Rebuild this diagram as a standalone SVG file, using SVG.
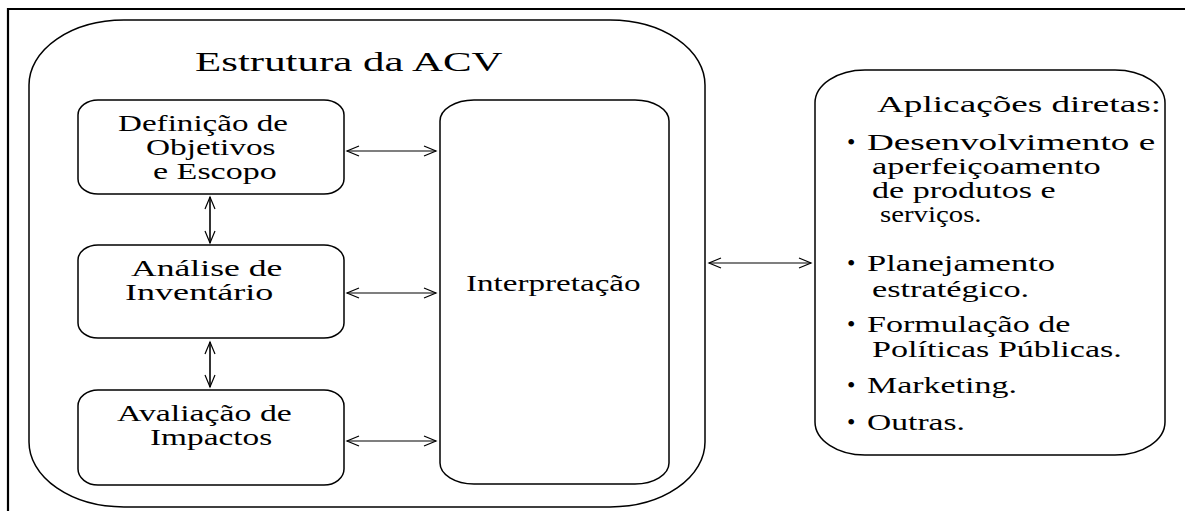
<svg xmlns="http://www.w3.org/2000/svg" width="1185" height="511" viewBox="0 0 1185 511">
<style>
.box{fill:#fff;stroke:#000;stroke-width:1.5}
.t{font-family:"Liberation Serif","Times New Roman",serif;font-size:24px;fill:#000}
.s{font-size:23px}
.title{font-size:27px}
.con{stroke:#000;stroke-width:1.2;fill:none;marker-start:url(#ah);marker-end:url(#ah)}
.v{stroke-width:1.6}
</style>
<defs>
<marker id="ah" markerUnits="userSpaceOnUse" markerWidth="16" markerHeight="14" refX="0" refY="0" viewBox="-14 -7 16 14" orient="auto-start-reverse">
<path d="M-12,-5 L0,0 L-12,5" fill="none" stroke="#000" stroke-width="1.2"/>
</marker>
</defs>
<rect width="1185" height="511" fill="#fff"/>
<path d="M8,511 V9 H1185" fill="none" stroke="#000" stroke-width="2.2"/>
<g id="acv">
<rect class="box" x="29" y="20" width="676" height="487" rx="95" ry="65"/>
<text class="t title" transform="translate(195,71) scale(1.59,1)">Estrutura da ACV</text>
</g>
<g id="definicao">
<rect class="box" x="78" y="100" width="266" height="94" rx="20" ry="15"/>
<text class="t s" transform="translate(118,130.5) scale(1.44,1)">Definição de</text>
<text class="t s" transform="translate(146,155) scale(1.45,1)">Objetivos</text>
<text class="t s" transform="translate(153,178.5) scale(1.48,1)">e Escopo</text>
</g>
<g id="inventario">
<rect class="box" x="78" y="245" width="266" height="93" rx="20" ry="15"/>
<text class="t s" transform="translate(131,276) scale(1.55,1)">Análise de</text>
<text class="t s" transform="translate(125,300) scale(1.57,1)">Inventário</text>
</g>
<g id="impactos">
<rect class="box" x="78" y="390" width="266" height="95" rx="20" ry="16"/>
<text class="t s" transform="translate(117,420.5) scale(1.47,1)">Avaliação de</text>
<text class="t s" transform="translate(150,445) scale(1.45,1)">Impactos</text>
</g>
<g id="interpretacao">
<rect class="box" x="440" y="100" width="229" height="384" rx="34" ry="21"/>
<text class="t" transform="translate(466,291) scale(1.38,1)">Interpretação</text>
</g>
<g id="aplicacoes">
<rect class="box" x="815" y="70" width="350" height="385" rx="50" ry="33"/>
<text class="t" transform="translate(877,112) scale(1.55,1)">Aplicações diretas:</text>
<text class="t" x="847" y="150">•</text>
<text class="t" transform="translate(867,150) scale(1.55,1)">Desenvolvimento e</text>
<text class="t" transform="translate(872,174) scale(1.43,1)">aperfeiçoamento</text>
<text class="t" transform="translate(872,198) scale(1.42,1)">de produtos e</text>
<text class="t" transform="translate(880,222) scale(1.2,1)">serviços.</text>
<text class="t" x="847" y="271">•</text>
<text class="t" transform="translate(867,271) scale(1.44,1)">Planejamento</text>
<text class="t" transform="translate(872,297) scale(1.43,1)">estratégico.</text>
<text class="t" x="847" y="332">•</text>
<text class="t" transform="translate(867,332) scale(1.42,1)">Formulação de</text>
<text class="t" transform="translate(872,357) scale(1.42,1)">Políticas Públicas.</text>
<text class="t" x="847" y="393">•</text>
<text class="t" transform="translate(867,393) scale(1.415,1)">Marketing.</text>
<text class="t" x="847" y="430">•</text>
<text class="t" transform="translate(867,430) scale(1.4,1)">Outras.</text>
</g>
<g id="connectors">
<line class="con" x1="347" y1="151" x2="436" y2="151"/>
<line class="con" x1="347" y1="293" x2="436" y2="293"/>
<line class="con" x1="347" y1="441" x2="436" y2="441"/>
<line class="con v" x1="210" y1="197" x2="210" y2="243"/>
<line class="con v" x1="210" y1="342" x2="210" y2="387"/>
<line class="con" x1="709" y1="263" x2="811" y2="263"/>
</g>
</svg>
